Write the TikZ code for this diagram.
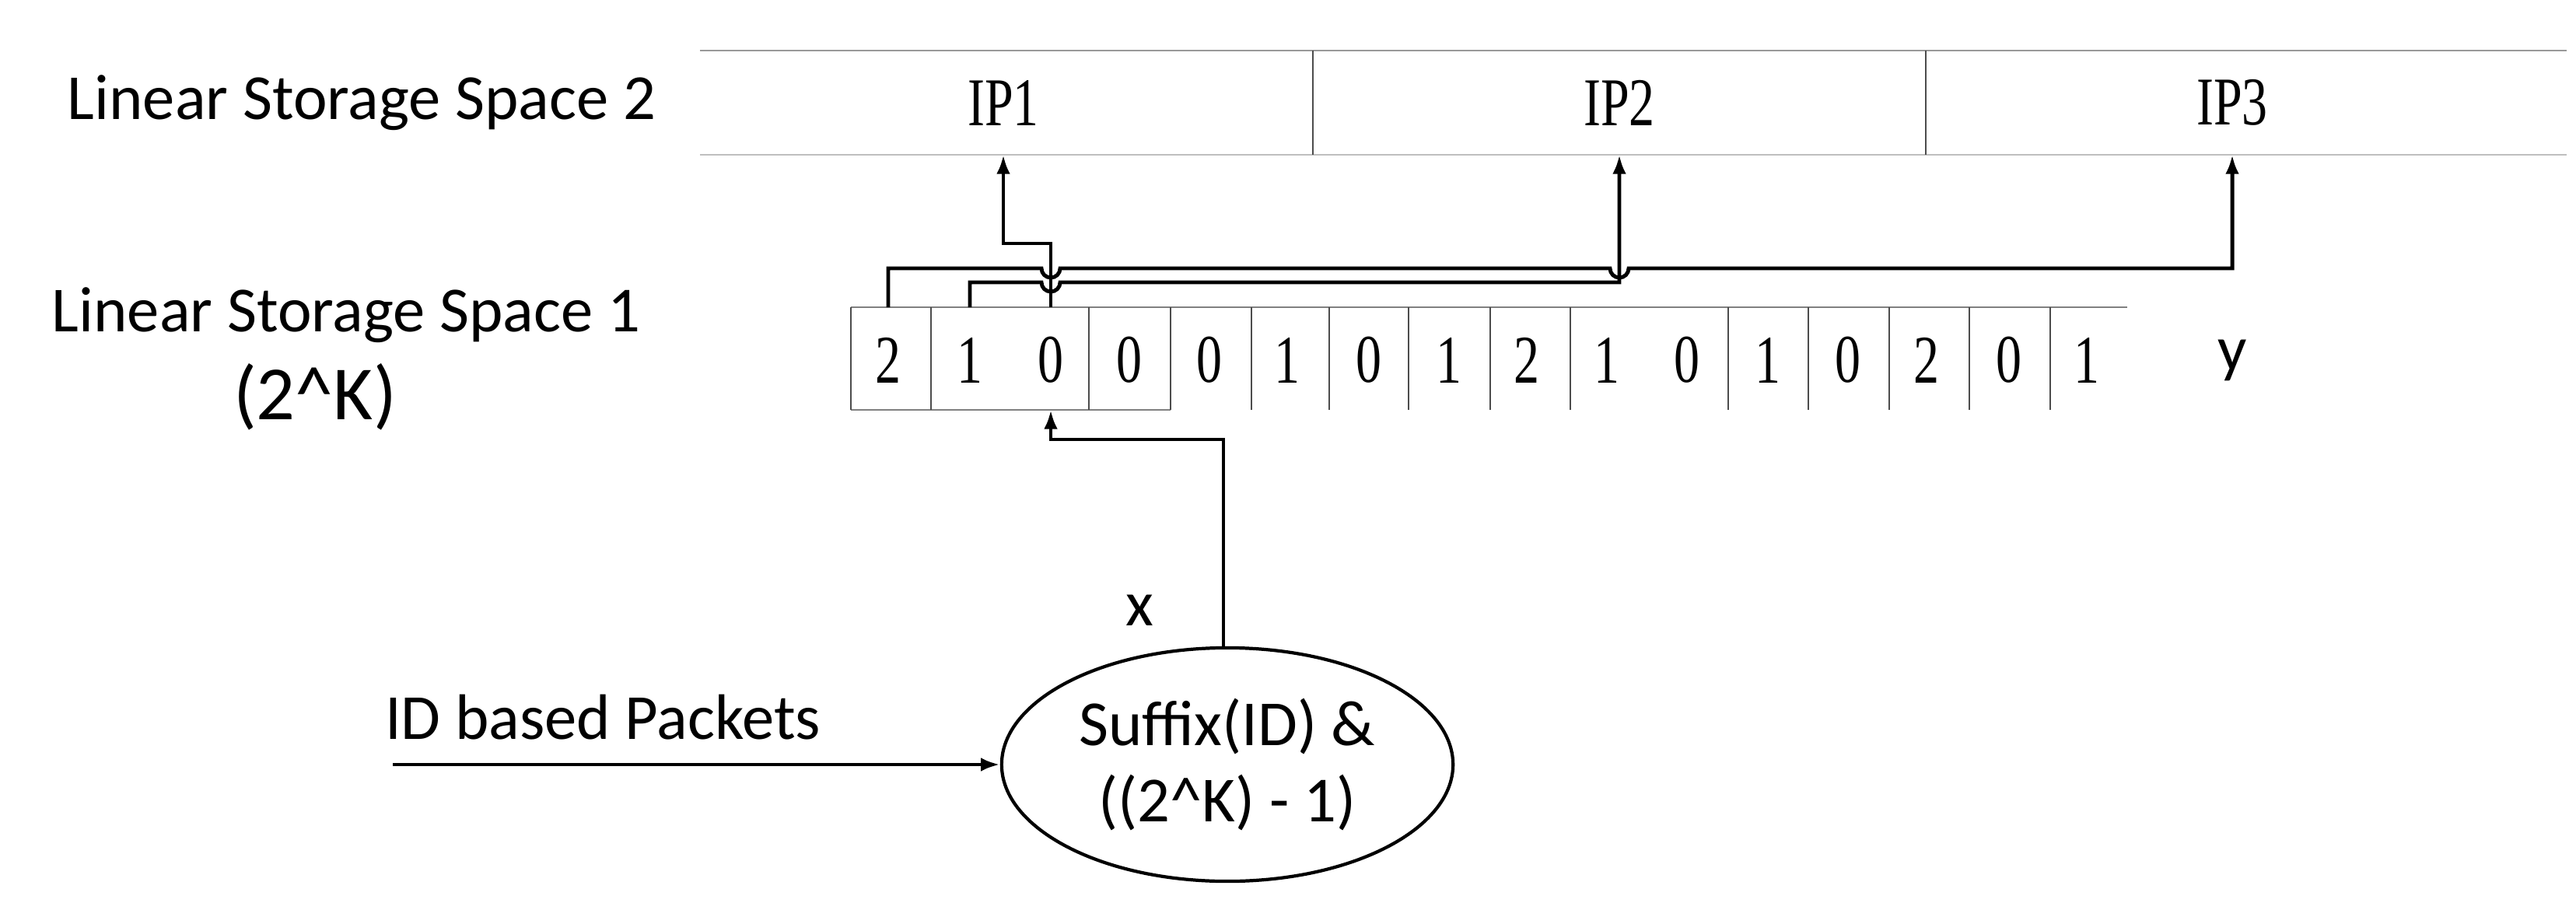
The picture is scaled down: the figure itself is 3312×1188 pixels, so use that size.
\documentclass[tikz,border=0pt]{standalone}
\usepackage{fontspec}
\usetikzlibrary{shapes.geometric,arrows.meta}
\setmainfont{Carlito}
\newfontfamily\serifd{Liberation Serif}
\begin{document}
\begin{tikzpicture}[x=0.01cm,y=-0.01cm,
  lab/.style={font=\fontsize{23.5}{28}\selectfont,inner sep=0},
  dig/.style={font=\serifd\fontsize{25}{28}\selectfont,inner sep=0,xscale=0.75},
  thin/.style={line width=0.5pt,draw=black!70},
  arr/.style={line width=1.4pt,-{Latex[length=7pt,width=5pt]}}]
\useasboundingbox (0,0) rectangle (3312,1188);
% top storage
\draw[thin,draw=black!40] (900,65) -- (3300,65);
\draw[thin,draw=black!25] (900,199) -- (3300,199);
\draw[thin] (1688,65) -- (1688,199);
\draw[thin] (2476,65) -- (2476,199);
\node[dig] (ip1) at (1290,132) {IP1};
\node[dig] (ip2) at (2082,132) {IP2};
\node[dig] (ip3) at (2870,132) {IP3};
\coordinate (t1) at (1290,199);
\coordinate (t2) at (2082,199);
\coordinate (t3) at (2870,199);
% labels
\node[lab] (l2) at (465,132) {Linear Storage Space 2};
\node[lab] (l1) at (445,405) {Linear Storage Space 1};
\node[lab,font=\fontsize{28}{32}\selectfont] (l1k) at (405,510) {(2\^{}K)};
% cells
\draw[thin,draw=black!50] (1094,395) -- (2735,395);
\draw[thin,draw=black!50] (1094,527) -- (1505,527);
\foreach \x in {1094,1197,1400,1505,1609,1709,1811,1916,2019,2222,2325,2429,2532,2636}
  \draw[thin] (\x,395) -- (\x,527);
\foreach \x/\d/\n in {1142/2/a,1247/1/b,1351/0/c,1452/0/d,1555/0/e,1655/1/f,1760/0/g,1863/1/h,1963/2/i,2066/1/j,2169/0/k,2273/1/l,2376/0/m,2477/2/n,2583/0/o,2683/1/p}
  \node[dig] (c\n) at (\x,463) {\d};
\node[lab] (y) at (2870,463) {y};
% connectors with hops
\coordinate (a0) at (1142,395);
\coordinate (b0) at (1247,395);
\coordinate (c0) at (1351,395);
\draw[arr] (a0) -- (1142,345) -- (1339,345) arc[start angle=180,end angle=0,radius=12] -- (2070,345) arc[start angle=180,end angle=0,radius=12] -- (2870,345) -- (t3);
\draw[arr] (b0) -- (1247,363) -- (1339,363) arc[start angle=180,end angle=0,radius=12] -- (2082,363) -- (t2);
\draw[arr] (c0) -- (1351,313) -- (1290,313) -- (t1);
% ellipse
\node[draw,ellipse,line width=1.2pt,minimum width=5.8cm,minimum height=3cm,inner sep=0,lab,align=center] (e) at (1578,983) {Suffix(ID) \&\\((2\^{}K) - 1)};
\coordinate (cb) at (1351,527);
\draw[arr] (1573,833) coordinate (eo) -- (1573,565) -- (1351,565) -- (cb);
\node[lab] (x) at (1465,785) {x};
\coordinate (in) at (505,983);
\draw[arr] (in) -- (e.west);
\node[lab] (pk) at (775,922) {ID based Packets};
\end{tikzpicture}
\end{document}
